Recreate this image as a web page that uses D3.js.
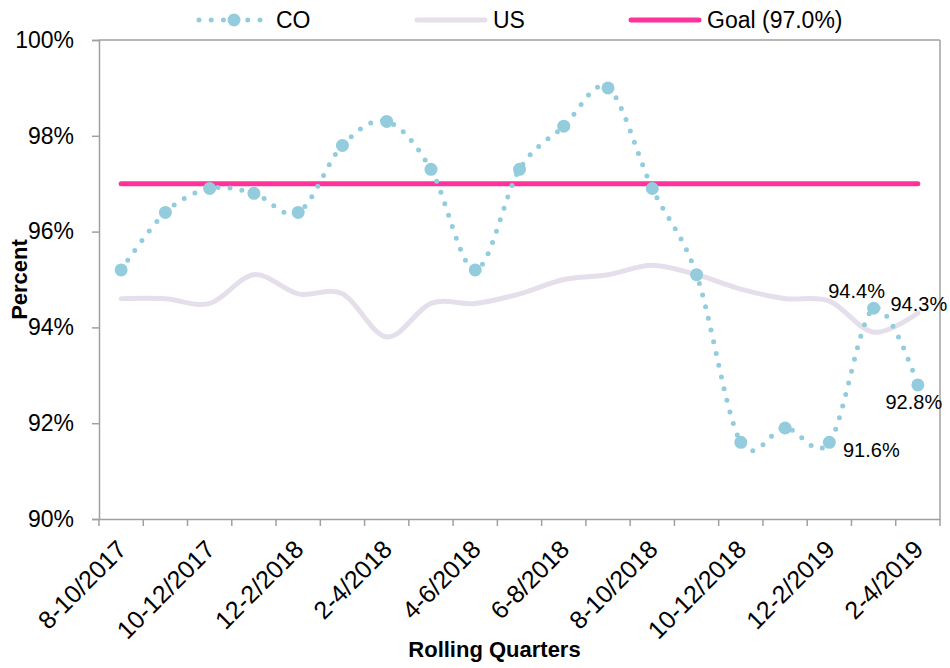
<!DOCTYPE html>
<html>
<head>
<meta charset="utf-8">
<script src="https://cdn.jsdelivr.net/npm/d3@7"></script>
<style>
  body { margin: 0; background: #fff; }
  svg { font-family: "Liberation Sans", Arial, sans-serif; }
</style>
</head>
<body>
<div id="chart"></div>
<script>
var w = 950, h = 668;
var margin = { top: 40, right: 10, bottom: 149, left: 99 };
var width = w - margin.left - margin.right;
var height = h - margin.top - margin.bottom;

// Rolling quarters (x categories)
var quarters = ["8-10/2017", "9-11/2017", "10-12/2017", "11-1/2018", "12-2/2018", "1-3/2018",
  "2-4/2018", "3-5/2018", "4-6/2018", "5-7/2018", "6-8/2018", "7-9/2018", "8-10/2018",
  "9-11/2018", "10-12/2018", "11-1/2019", "12-2/2019", "1-3/2019", "2-4/2019"];

// Series values (percent)
var coValues = [95.2, 96.4, 96.9, 96.8, 96.4, 97.8, 98.3, 97.3, 95.2, 97.3, 98.2, 99.0,
  96.9, 95.1, 91.6, 91.9, 91.6, 94.4, 92.8];
var usValues = [94.6, 94.6, 94.5, 95.1, 94.7, 94.7, 93.8, 94.5, 94.5, 94.7, 95.0, 95.1,
  95.3, 95.1, 94.8, 94.6, 94.55, 93.9, 94.3];
var goalValue = 97.0;

// Axis ticks
var yTicks = [90, 92, 94, 96, 98, 100];
var xLabelQuarters = quarters.filter(function(d, i) { return i % 2 === 0; });

// Colours
var coColor = "#93CDDD", usColor = "#E5DFEC", goalColor = "#FF3399", axisColor = "#A0A0A0";

var svg = d3.select("#chart").append("svg")
    .attr("width", w)
    .attr("height", h);

var g = svg.append("g")
    .attr("transform", "translate(" + margin.left + "," + margin.top + ")");

var xScale = d3.scaleBand().domain(quarters).range([0, width]).padding(0);
var yScale = d3.scaleLinear().domain([90, 100]).range([height, 0]);
var cx = function(i) { return xScale(quarters[i]) + xScale.bandwidth() / 2; };

// Plot border (top + right)
g.append("line").attr("x1", 0).attr("x2", width).attr("y1", 0).attr("y2", 0)
  .attr("stroke", axisColor).attr("stroke-width", 1.5);
g.append("line").attr("x1", width).attr("x2", width).attr("y1", 0).attr("y2", height)
  .attr("stroke", axisColor).attr("stroke-width", 1.5);

// Y axis
var yAxis = d3.axisLeft(yScale).tickValues(yTicks)
  .tickFormat(function(d) { return d + "%"; })
  .tickSize(7).tickPadding(18);
var yG = g.append("g").call(yAxis);
yG.select(".domain").attr("stroke", axisColor).attr("stroke-width", 1.5);
yG.selectAll(".tick line").attr("stroke", axisColor).attr("stroke-width", 1.5);
yG.selectAll("text").attr("font-size", "23px").attr("fill", "#000")
  .attr("font-family", "Liberation Sans, Arial, sans-serif");

// X axis (labels every other quarter, ticks on band edges)
var xAxis = d3.axisBottom(xScale).tickValues(xLabelQuarters).tickSize(0).tickPadding(0);
var xG = g.append("g").attr("transform", "translate(0," + height + ")").call(xAxis);
xG.select(".domain").attr("stroke", axisColor).attr("stroke-width", 1.5);
xG.selectAll("text")
  .attr("font-size", "25px").attr("fill", "#000")
  .attr("font-family", "Liberation Sans, Arial, sans-serif")
  .attr("text-anchor", "end")
  .attr("dy", null)
  .attr("y", 0)
  .attr("transform", "translate(7,32) rotate(-45)");

var edges = quarters.map(function(d) { return xScale(d); }).concat([width]);
xG.selectAll(".edge").data(edges).enter().append("line")
  .attr("class", "edge")
  .attr("x1", function(d) { return d; }).attr("x2", function(d) { return d; })
  .attr("y1", 0).attr("y2", 7)
  .attr("stroke", axisColor).attr("stroke-width", 1.5);

// Axis titles
g.append("text")
  .attr("transform", "translate(" + (-80) + "," + (height / 2) + ") rotate(-90)")
  .attr("text-anchor", "middle").attr("dy", "0.35em")
  .attr("font-size", "22px").attr("font-weight", "bold")
  .text("Percent");
g.append("text")
  .attr("x", width / 2 - 25).attr("y", height + 138)
  .attr("text-anchor", "middle")
  .attr("font-size", "22px").attr("font-weight", "bold")
  .text("Rolling Quarters");

// Lines
var smooth = d3.line()
  .x(function(d, i) { return cx(i); })
  .y(function(d) { return yScale(d); })
  .curve(d3.curveCatmullRom.alpha(0));

g.append("path").datum(usValues)
  .attr("d", smooth).attr("fill", "none")
  .attr("stroke", usColor).attr("stroke-width", 5).attr("stroke-linecap", "round");

g.append("line")
  .attr("x1", cx(0)).attr("x2", cx(quarters.length - 1))
  .attr("y1", yScale(goalValue)).attr("y2", yScale(goalValue))
  .attr("stroke", goalColor).attr("stroke-width", 5).attr("stroke-linecap", "round");

g.append("path").datum(coValues)
  .attr("d", smooth).attr("fill", "none")
  .attr("stroke", coColor).attr("stroke-width", 5)
  .attr("stroke-linecap", "round").attr("stroke-dasharray", "0 12");

g.selectAll(".co-dot").data(coValues).enter().append("circle")
  .attr("class", "co-dot")
  .attr("cx", function(d, i) { return cx(i); })
  .attr("cy", function(d) { return yScale(d); })
  .attr("r", 6.5).attr("fill", coColor);

// Data labels
var labels = [
  { series: coValues, i: 17, dx: -17, dy: -17 },
  { series: usValues, i: 18, dx: 1, dy: -9, text: "94.3%" },
  { series: coValues, i: 18, dx: -4, dy: 17 },
  { series: coValues, i: 16, dx: 42, dy: 8 }
];
g.selectAll(".dlabel").data(labels).enter().append("text")
  .attr("class", "dlabel")
  .attr("x", function(d) { return cx(d.i) + d.dx; })
  .attr("y", function(d) { return yScale(d.series[d.i]) + d.dy; })
  .attr("dy", "0.35em").attr("text-anchor", "middle")
  .attr("font-size", "20px")
  .text(function(d) { return d.text || d3.format(".1f")(d.series[d.i]) + "%"; });

// Legend
var legend = svg.append("g").attr("transform", "translate(0,20)");
legend.append("line").attr("x1", 199).attr("x2", 261).attr("y1", 0).attr("y2", 0)
  .attr("stroke", coColor).attr("stroke-width", 5)
  .attr("stroke-linecap", "round").attr("stroke-dasharray", "0 12.2");
legend.append("circle").attr("cx", 234).attr("cy", 0).attr("r", 6.5).attr("fill", coColor);
legend.append("text").attr("x", 276).attr("dy", "0.35em").attr("font-size", "23px").text("CO");

legend.append("line").attr("x1", 417).attr("x2", 485).attr("y1", 0).attr("y2", 0)
  .attr("stroke", usColor).attr("stroke-width", 5).attr("stroke-linecap", "round");
legend.append("text").attr("x", 493).attr("dy", "0.35em").attr("font-size", "23px").text("US");

legend.append("line").attr("x1", 631).attr("x2", 699).attr("y1", 0).attr("y2", 0)
  .attr("stroke", goalColor).attr("stroke-width", 5).attr("stroke-linecap", "round");
legend.append("text").attr("x", 707).attr("dy", "0.35em").attr("font-size", "23px").text("Goal (97.0%)");
</script>
</body>
</html>
